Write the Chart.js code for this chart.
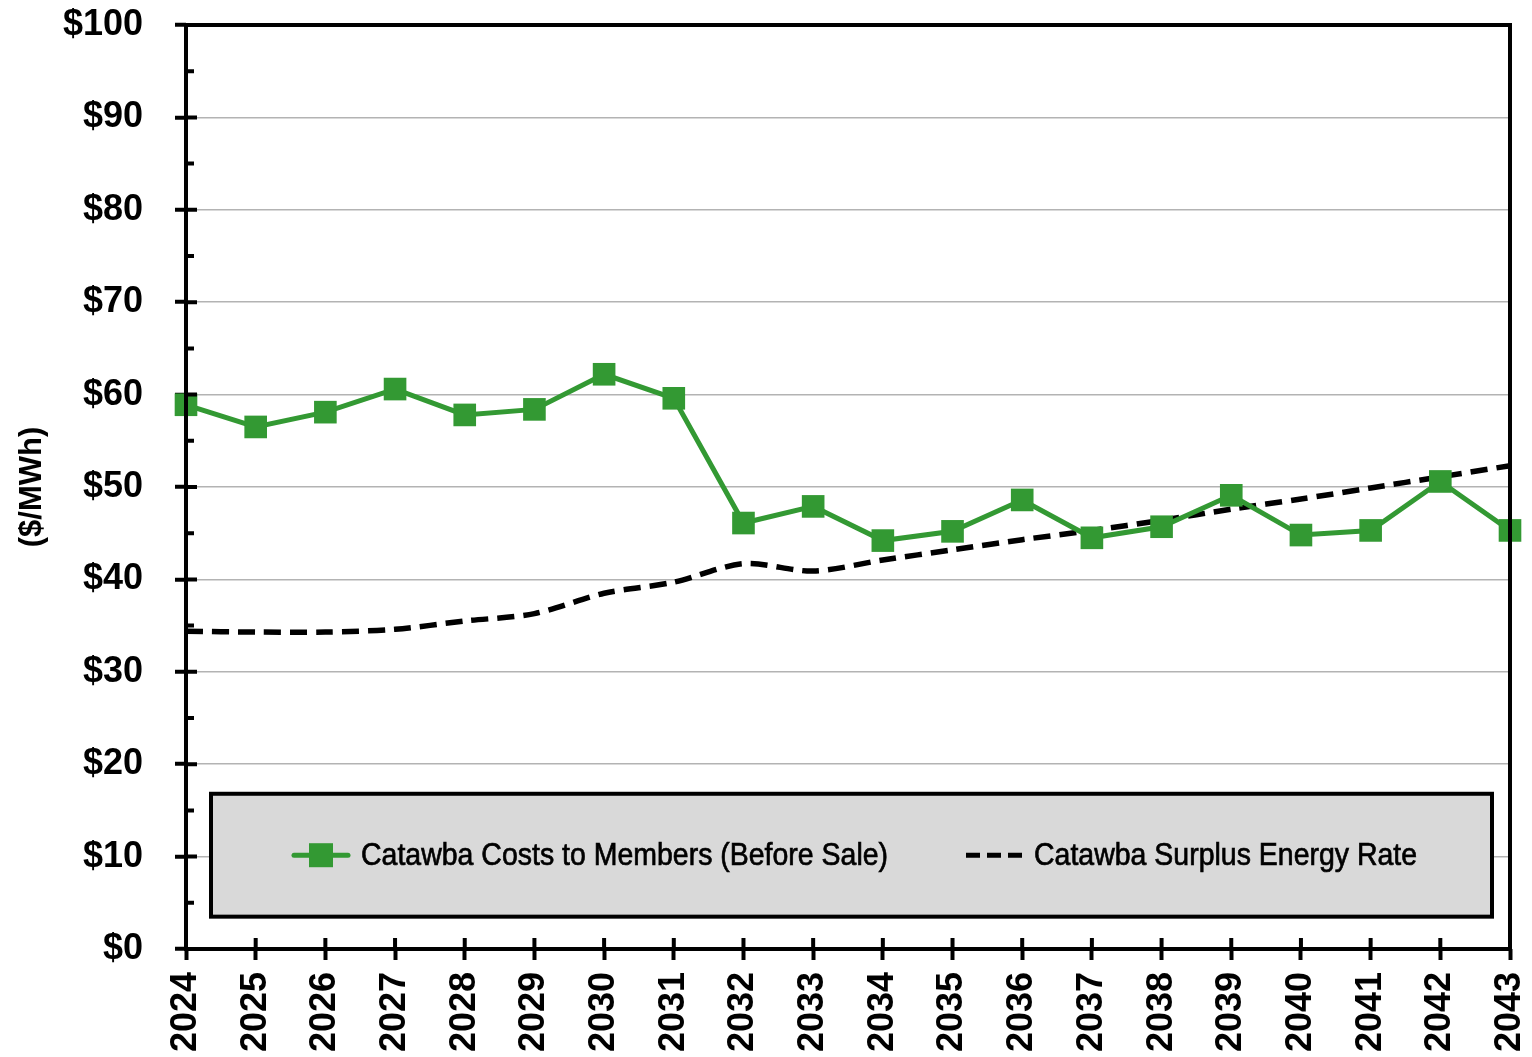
<!DOCTYPE html>
<html>
<head>
<meta charset="utf-8">
<script src="https://cdn.jsdelivr.net/npm/chart.js@4.4.1/dist/chart.umd.min.js"></script>
<style>
  html, body { margin:0; padding:0; background:#fff; }
  #wrap { width:1532px; height:1057px; }
</style>
</head>
<body>
<div id="wrap"><canvas id="c" width="1532" height="1057"></canvas></div>
<script>
/* Catawba costs vs surplus energy rate */
const years = ['2024','2025','2026','2027','2028','2029','2030','2031','2032','2033',
               '2034','2035','2036','2037','2038','2039','2040','2041','2042','2043'];
const costsToMembers = [58.9,56.5,58.1,60.6,57.8,58.4,62.2,59.6,46.1,47.9,
                        44.2,45.2,48.6,44.5,45.7,49.1,44.8,45.3,50.6,45.3];
const surplusRate = [34.4,34.3,34.3,34.6,35.5,36.3,38.5,39.7,41.7,40.9,
                     42.1,43.2,44.3,45.3,46.4,47.6,48.7,49.9,51.1,52.3];
const seriesNames = ['Catawba Costs to Members (Before Sale)', 'Catawba Surplus Energy Rate'];

const GREEN = '#339933';
const SANS = '"Liberation Sans", Arial, sans-serif';

// draw text squeezed horizontally (stand-in for Arial Narrow), slightly heavier
function narrowText(ctx, txt, x, y, squeeze) {
  ctx.save();
  ctx.translate(x, y);
  ctx.scale(squeeze, 1);
  ctx.lineWidth = 0.7;
  ctx.strokeStyle = '#000';
  ctx.fillText(txt, 0, 0);
  ctx.strokeText(txt, 0, 0);
  ctx.restore();
}

// frame, crossing ticks, minor ticks and the in-plot legend box
const framePlugin = {
  id: 'frame',
  afterDatasetsDraw(chart) {
    const { ctx, chartArea: a, scales } = chart;
    const y = scales.y, x = scales.x;
    ctx.save();
    ctx.strokeStyle = '#000';
    ctx.lineWidth = 4;
    ctx.strokeRect(a.left, a.top, a.right - a.left, a.bottom - a.top);
    // inner halves of major ticks + minor ticks
    ctx.beginPath();
    for (let v = 0; v <= 100; v += 5) {
      const py = y.getPixelForValue(v);
      const len = v % 10 === 0 ? 11 : 8;
      ctx.moveTo(a.left, py); ctx.lineTo(a.left + len, py);
    }
    for (let i = 0; i < years.length; i++) {
      const px = x.getPixelForValue(i);
      ctx.moveTo(px, a.bottom); ctx.lineTo(px, a.bottom - 11);
    }
    ctx.stroke();

    // legend box
    const bx = a.left + 25, bw = a.right - a.left - 43;
    const by = y.getPixelForValue(16.8), bh = y.getPixelForValue(3.5) - by;
    ctx.fillStyle = '#d9d9d9';
    ctx.fillRect(bx, by, bw, bh);
    ctx.lineWidth = 4;
    ctx.strokeRect(bx, by, bw, bh);
    const cy = by + bh / 2;
    ctx.font = '32px ' + SANS;
    ctx.textBaseline = 'middle';
    // green entry
    ctx.strokeStyle = GREEN; ctx.lineWidth = 5; ctx.lineCap = 'round';
    ctx.beginPath(); ctx.moveTo(bx + 83, cy); ctx.lineTo(bx + 137, cy); ctx.stroke();
    ctx.fillStyle = GREEN; ctx.fillRect(bx + 98, cy - 12, 24, 24);
    ctx.fillStyle = '#000';
    narrowText(ctx, seriesNames[0], bx + 150, cy + 1, 0.89);
    // dashed entry
    ctx.strokeStyle = '#000'; ctx.lineWidth = 5; ctx.lineCap = 'butt'; ctx.setLineDash([14, 7]);
    ctx.beginPath(); ctx.moveTo(bx + 755, cy); ctx.lineTo(bx + 812, cy); ctx.stroke();
    ctx.setLineDash([]);
    narrowText(ctx, seriesNames[1], bx + 823, cy + 1, 0.89);
    ctx.restore();
  }
};

new Chart(document.getElementById('c'), {
  type: 'line',
  data: {
    labels: years,
    datasets: [
      {
        label: seriesNames[0],
        data: costsToMembers,
        borderColor: GREEN,
        backgroundColor: GREEN,
        borderWidth: 5,
        pointStyle: 'rect',
        pointRadius: 16,
        pointBorderWidth: 0,
        tension: 0,
        order: 1
      },
      {
        label: seriesNames[1],
        data: surplusRate,
        borderColor: '#000',
        borderWidth: 5.5,
        borderDash: [17, 9],
        pointRadius: 0,
        tension: 0.3,
        order: 2
      }
    ]
  },
  options: {
    responsive: false,
    animation: false,
    layout: { padding: { top: 25, right: 22, left: 14, bottom: 0 } },
    plugins: { legend: { display: false }, tooltip: { enabled: false } },
    scales: {
      x: {
        offset: false,
        grid: { display: true, drawOnChartArea: false, drawTicks: true, tickLength: 11, tickWidth: 4, tickColor: '#000' },
        border: { display: false },
        ticks: { font: { family: SANS, size: 36, weight: 'bold' }, color: '#000',
                 minRotation: 90, maxRotation: 90, padding: 12, autoSkip: false },
        afterFit(s) { s.height = 108; s.paddingLeft = 0; s.paddingRight = 0; }
      },
      y: {
        min: 0, max: 100,
        grid: { color: '#b3b3b3', lineWidth: 1.5, tickLength: 11, tickWidth: 4, tickColor: '#000' },
        border: { display: false },
        ticks: { stepSize: 10, font: { family: SANS, size: 36, weight: 'bold' },
                 color: '#000', padding: 32, callback: v => '$' + v },
        title: { display: true, text: '($/MWh)', color: '#000', padding: { top: 0, bottom: 0 },
                 font: { family: SANS, size: 31, weight: 'bold' } },
        afterFit(s) { s.width = 172; s.paddingTop = 0; s.paddingBottom = 0; }
      }
    }
  },
  plugins: [framePlugin]
});
</script>
</body>
</html>
